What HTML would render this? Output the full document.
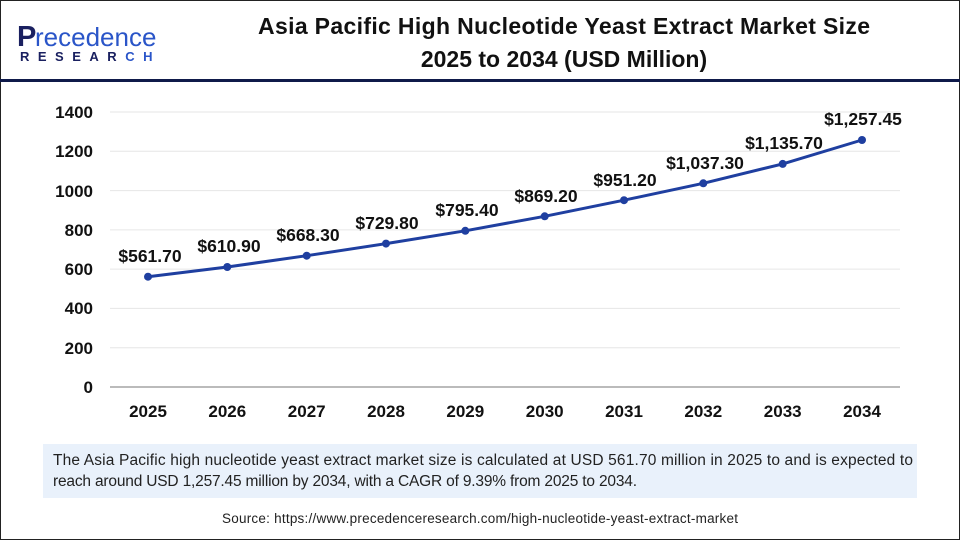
<!DOCTYPE html>
<html><head><meta charset="utf-8"><style>
body{margin:0;width:960px;height:540px;overflow:hidden;background:#fff;font-family:"Liberation Sans",Arial,sans-serif}
.frame{position:absolute;left:0;top:0;width:958px;height:538px;border:1px solid #222}
</style></head><body>
<div class="frame"></div>
<svg width="960" height="540" style="position:absolute;left:0;top:0" font-family="Liberation Sans, Arial, sans-serif">
<text x="17" y="46" font-size="29" fill="#1a2060" font-weight="bold">P</text>
<text x="35" y="46" font-size="26" fill="#2a55c8">recedence</text>
<text x="20" y="61" font-size="13" fill="#1a2060" font-weight="bold" letter-spacing="8.5">RESEAR<tspan fill="#2a55c8">CH</tspan></text>
<text x="564" y="34" font-size="23" font-weight="bold" text-anchor="middle" fill="#111" textLength="612">Asia Pacific High Nucleotide Yeast Extract Market Size</text>
<text x="564" y="67" font-size="23" font-weight="bold" text-anchor="middle" fill="#111">2025 to 2034 (USD Million)</text>
<rect x="0" y="79" width="960" height="3" fill="#0f1a4a"/>
<g stroke="#e6e6e6" stroke-width="1">
<line x1="110" x2="900" y1="112" y2="112"/><line x1="110" x2="900" y1="151.3" y2="151.3"/><line x1="110" x2="900" y1="190.6" y2="190.6"/><line x1="110" x2="900" y1="229.9" y2="229.9"/><line x1="110" x2="900" y1="269.1" y2="269.1"/><line x1="110" x2="900" y1="308.4" y2="308.4"/><line x1="110" x2="900" y1="347.7" y2="347.7"/>
</g>
<line x1="110" x2="900" y1="387" y2="387" stroke="#bbb" stroke-width="2"/>
<g font-size="17" font-weight="bold" fill="#111" text-anchor="end">
<text x="93" y="118">1400</text><text x="93" y="157">1200</text><text x="93" y="197">1000</text><text x="93" y="236">800</text><text x="93" y="275">600</text><text x="93" y="314">400</text><text x="93" y="354">200</text><text x="93" y="393">0</text>
</g>
<g font-size="17" font-weight="bold" fill="#111" text-anchor="middle">
<text x="148" y="417">2025</text><text x="227.3" y="417">2026</text><text x="306.7" y="417">2027</text><text x="386" y="417">2028</text><text x="465.3" y="417">2029</text><text x="544.7" y="417">2030</text><text x="624" y="417">2031</text><text x="703.3" y="417">2032</text><text x="782.7" y="417">2033</text><text x="862" y="417">2034</text>
</g>
<polyline fill="none" stroke="#1f3fa0" stroke-width="3" points="148,276.7 227.3,267 306.7,255.7 386,243.6 465.3,230.8 544.7,216.3 624,200.2 703.3,183.3 782.7,163.9 862,140"/>
<g fill="#1f3fa0">
<circle cx="148" cy="276.7" r="4"/><circle cx="227.3" cy="267" r="4"/><circle cx="306.7" cy="255.7" r="4"/><circle cx="386" cy="243.6" r="4"/><circle cx="465.3" cy="230.8" r="4"/><circle cx="544.7" cy="216.3" r="4"/><circle cx="624" cy="200.2" r="4"/><circle cx="703.3" cy="183.3" r="4"/><circle cx="782.7" cy="163.9" r="4"/><circle cx="862" cy="140" r="4"/>
</g>
<g font-size="17.5" font-weight="bold" fill="#111" text-anchor="middle">
<text x="150" y="262">$561.70</text><text x="229" y="252">$610.90</text><text x="308" y="241">$668.30</text><text x="387" y="229">$729.80</text><text x="467" y="216">$795.40</text><text x="546" y="202">$869.20</text><text x="625" y="186">$951.20</text><text x="705" y="169">$1,037.30</text><text x="784" y="149">$1,135.70</text><text x="863" y="125">$1,257.45</text>
</g>
<rect x="43" y="444" width="874" height="54" fill="#e9f1fb"/>
<text x="53" y="465" font-size="15.5" fill="#222" textLength="860">The Asia Pacific high nucleotide yeast extract market size is calculated at USD 561.70 million in 2025 to and is expected to</text>
<text x="53" y="486" font-size="15.5" fill="#222" textLength="584">reach around USD 1,257.45 million by 2034, with a CAGR of 9.39% from 2025 to 2034.</text>
<text x="480" y="523" font-size="13.5" fill="#222" text-anchor="middle" textLength="516">Source: https://www.precedenceresearch.com/high-nucleotide-yeast-extract-market</text>
</svg>
</body></html>
